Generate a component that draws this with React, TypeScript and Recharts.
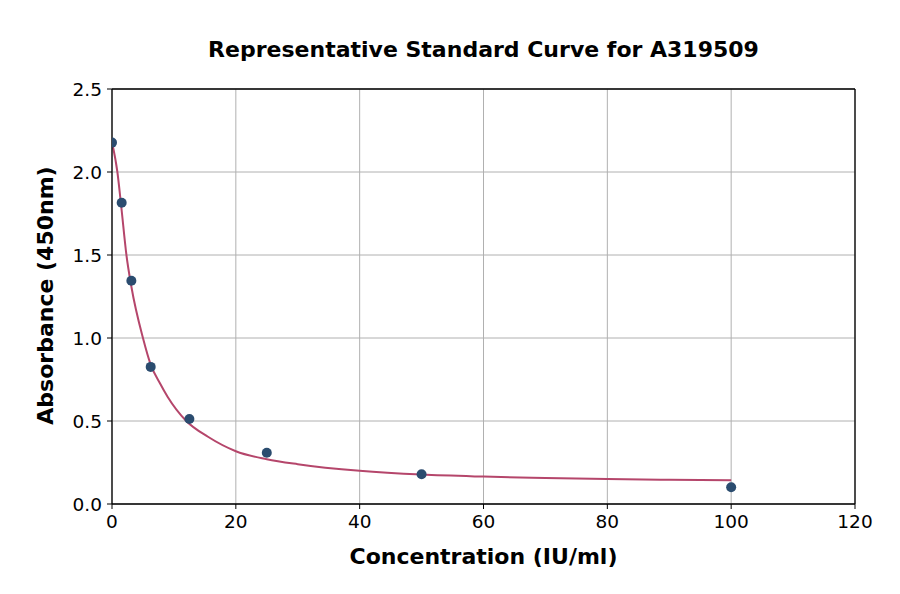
import React from 'react';
import { ComposedChart, Line, Scatter, XAxis, YAxis, CartesianGrid, ReferenceLine } from 'recharts';

const concentration = [0, 1.5625, 3.125, 6.25, 12.5, 25, 50, 100];
const absorbance = [2.177, 1.815, 1.345, 0.826, 0.512, 0.309, 0.179, 0.101];

const curveX = [0, 0.87, 1.5, 2.33, 3.125, 5, 6.25, 7.7, 9, 12, 15.5, 20, 25, 30, 40, 50, 60, 70, 80, 90, 100];
const curveY = [2.18, 2.0, 1.79, 1.5, 1.31, 1.0, 0.84, 0.73, 0.645, 0.5, 0.405, 0.318, 0.27, 0.24, 0.2, 0.177, 0.165, 0.157, 0.15, 0.146, 0.143];

const xTicks = [0, 20, 40, 60, 80, 100, 120];
const yTicks = [0, 0.5, 1.0, 1.5, 2.0, 2.5];
const xMax = 120;
const yMax = 2.5;

const title = 'Representative Standard Curve for A319509';
const xLabel = 'Concentration (IU/ml)';
const yLabel = 'Absorbance (450nm)';

const points = concentration.map((x, i) => ({ x, y: absorbance[i] }));
const curve = curveX.map((x, i) => ({ x, y: curveY[i] }));

const FONT = '"DejaVu Sans", sans-serif';

const YLabel = (props: any) => {
  const vb = props.viewBox || {};
  const cx = vb.x + 52.5;
  const cy = vb.y + vb.height / 2 - 1;
  return (
    <text
      x={cx}
      y={cy}
      transform={`rotate(-90, ${cx}, ${cy})`}
      textAnchor="middle"
      style={{ fontFamily: FONT, fontSize: 22, fontWeight: 'bold', fill: '#000' }}
    >
      {yLabel}
    </text>
  );
};

export default function App() {
  return (
    <div style={{ position: 'absolute', left: 0, top: 0, width: 900, height: 594, background: '#fff' }}>
      <div
        style={{
          position: 'absolute',
          left: 112,
          width: 743,
          top: 39,
          textAlign: 'center',
          fontFamily: FONT,
          fontWeight: 'bold',
          fontSize: 22,
          color: '#000',
          lineHeight: '22px',
          whiteSpace: 'nowrap',
        }}
      >
        {title}
      </div>
      <ComposedChart width={900} height={594} margin={{ top: 89, right: 45, bottom: 0, left: 0 }}>
        <CartesianGrid stroke="#b0b0b0" strokeWidth={1} />
        <XAxis
          dataKey="x"
          type="number"
          domain={[0, xMax]}
          ticks={xTicks}
          allowDataOverflow
          height={90}
          tickSize={5}
          tickMargin={6}
          axisLine={{ stroke: '#000', strokeWidth: 1.3 }}
          tickLine={{ stroke: '#000' }}
          tick={{ fill: '#000', fontFamily: FONT, fontSize: 18.5 }}
          label={{
            value: xLabel,
            position: 'insideBottom',
            offset: 30,
            style: { fontFamily: FONT, fontSize: 22, fontWeight: 'bold', fill: '#000' },
          }}
        />
        <YAxis
          type="number"
          domain={[0, yMax]}
          ticks={yTicks}
          allowDataOverflow
          width={112}
          tickSize={5}
          tickMargin={5}
          tickFormatter={(v: number) => v.toFixed(1)}
          axisLine={{ stroke: '#000', strokeWidth: 1.3 }}
          tickLine={{ stroke: '#000' }}
          tick={{ fill: '#000', fontFamily: FONT, fontSize: 18.5 }}
          label={<YLabel />}
        />
        <ReferenceLine y={yMax} stroke="#000" strokeWidth={1.3} ifOverflow="visible" />
        <ReferenceLine x={xMax} stroke="#000" strokeWidth={1.3} ifOverflow="visible" />
        <Line
          data={curve}
          dataKey="y"
          type="monotone"
          stroke="#b5466b"
          strokeWidth={2}
          dot={false}
          activeDot={false}
          isAnimationActive={false}
        />
        <Scatter
          data={points}
          dataKey="y"
          fill="#2b4c6f"
          isAnimationActive={false}
          shape={(p: any) => <circle cx={p.cx} cy={p.cy} r={5} fill="#2b4c6f" />}
        />
      </ComposedChart>
    </div>
  );
}
